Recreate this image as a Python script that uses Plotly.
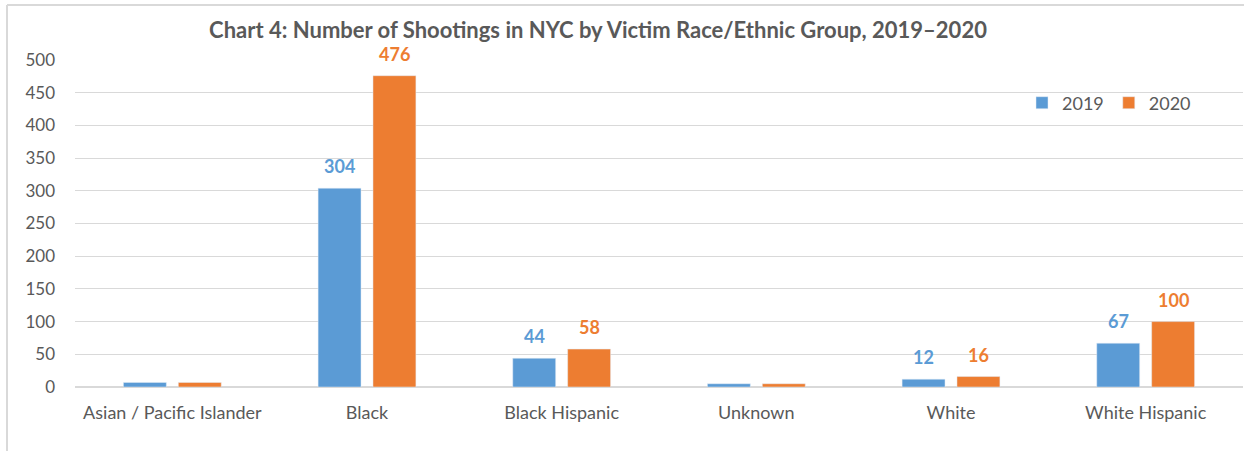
import plotly.graph_objects as go

categories = ["Asian / Pacific Islander", "Black", "Black Hispanic", "Unknown", "White", "White Hispanic"]
values_2019 = [7, 304, 44, 5, 12, 67]
values_2020 = [7, 476, 58, 5, 16, 100]
labels_2019 = ["", "304", "44", "", "12", "67"]
labels_2020 = ["", "476", "58", "", "16", "100"]
y_ticks = [0, 50, 100, 150, 200, 250, 300, 350, 400, 450, 500]

blue = "#5B9BD5"
orange = "#ED7D31"
gray_text = "#595959"
font_family = "Lato, 'Open Sans', sans-serif"

W, H = 1244, 451
ml, mr, mt, mb = 75, 1, 60, 64
pw = W - ml - mr
ph = H - mt - mb

fig = go.Figure()
fig.add_trace(go.Bar(x=categories, y=values_2019, name="2019", marker_color=blue))
fig.add_trace(go.Bar(x=categories, y=values_2020, name="2020", marker_color=orange))

# data labels as annotations above each bar
cat_w = pw / len(categories)
bargap = 0.436
bargroupgap = 0.218
slot = cat_w * (1 - bargap) / 2
for vals, labs, col, sgn in [(values_2019, labels_2019, blue, -1), (values_2020, labels_2020, orange, 1)]:
    for c, v, t in zip(categories, vals, labs):
        if t:
            fig.add_annotation(
                x=c, y=v, xref="x", yref="y", text=f"<b>{t}</b>", showarrow=False,
                xanchor="center", yanchor="bottom", xshift=sgn * slot / 2, yshift=9,
                font=dict(color=col, size=18, family=font_family),
            )

fig.update_layout(
    width=W, height=H,
    margin=dict(l=ml, r=mr, t=mt, b=mb),
    paper_bgcolor="white", plot_bgcolor="white",
    barmode="group", bargap=bargap, bargroupgap=bargroupgap,
    font=dict(family=font_family, color=gray_text, size=17),
    title=dict(
        text="<b>Chart 4: Number of Shootings in NYC by Victim Race/Ethnic Group, 2019–2020</b>",
        x=598 / W, xanchor="center", y=1 - 30 / H, yanchor="middle",
        font=dict(size=22, color=gray_text, family=font_family),
    ),
    legend=dict(
        orientation="h", x=(1022 - ml) / pw, xanchor="left",
        y=(H - mb - 103) / ph, yanchor="middle",
        font=dict(size=18, color=gray_text), bgcolor="rgba(0,0,0,0)",
        itemwidth=30, traceorder="normal",
    ),
    showlegend=True,
)
fig.update_yaxes(
    range=[0, 500], tickvals=y_ticks, showgrid=True, gridcolor="#D9D9D9", gridwidth=1,
    zeroline=True, zerolinecolor="#D9D9D9", zerolinewidth=1.5, showline=False,
    ticks="", ticklabelstandoff=19, tickfont=dict(size=17, color=gray_text),
)
fig.update_xaxes(
    showgrid=False, showline=False, ticks="", tickfont=dict(size=18, color=gray_text),
    ticklabelstandoff=13,
)

# chart border (left and top visible)
fig.add_shape(type="line", xref="paper", yref="paper",
              x0=(7 - ml) / pw, x1=(W + 5 - ml) / pw,
              y0=(H - mb - 5) / ph, y1=(H - mb - 5) / ph,
              line=dict(color="#D9D9D9", width=2))
fig.add_shape(type="line", xref="paper", yref="paper",
              x0=(7 - ml) / pw, x1=(7 - ml) / pw,
              y0=(H - mb - 5) / ph, y1=-(mb + 5) / ph,
              line=dict(color="#D9D9D9", width=2))

fig.write_html("out.html")
